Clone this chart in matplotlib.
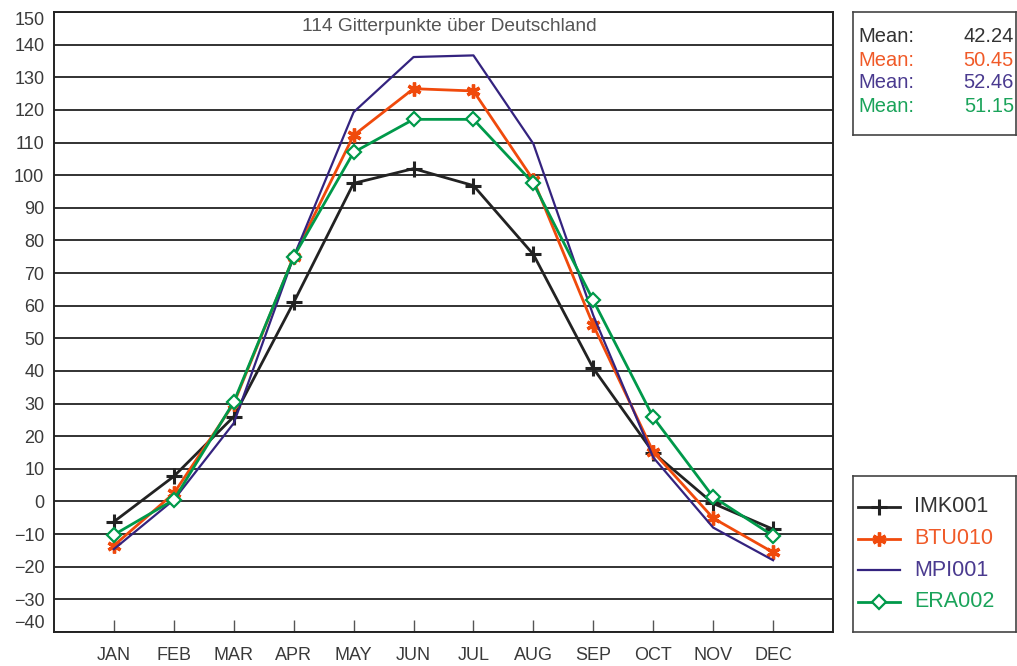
import numpy as np
import matplotlib
matplotlib.use('Agg')
import matplotlib.pyplot as plt

plt.rcParams['font.family'] = ['Liberation Sans', 'DejaVu Sans']

months = ['JAN', 'FEB', 'MAR', 'APR', 'MAY', 'JUN',
          'JUL', 'AUG', 'SEP', 'OCT', 'NOV', 'DEC']

imk001 = [-6.2, 7.7, 26, 61, 97.5, 102, 96.8, 75.7, 40.8, 15, -0.6, -8.5]
btu010 = [-13.5, 2.5, 30, 75, 112.2, 126.5, 125.8, 98.5, 54, 15.2, -5.1, -15.6]
mpi001 = [-14.6, 0.5, 24, 75, 119.3, 136.2, 136.7, 109.6, 57, 13.5, -8, -18]
era002 = [-10.2, 0.5, 30.5, 75, 107, 117.1, 117.1, 97.5, 61.6, 25.8, 1.4, -10.5]

names = ['IMK001', 'BTU010', 'MPI001', 'ERA002']
means = ['42.24', '50.45', '52.46', '51.15']
colors = ['#222222', '#f04a0c', '#34237f', '#00994a']
text_colors = ['#333333', '#f05a28', '#4a3a8f', '#1aa35a']

W, H = 1017, 666
fig = plt.figure(figsize=(W / 100, H / 100), dpi=100)

ax = fig.add_axes([54 / W, (H - 632) / H, (833 - 54) / W, (632 - 12) / H])
x = np.arange(1, 13)

ax.plot(x, imk001, color=colors[0], lw=2, marker='+', ms=11, mew=2.2)
ax.plot(x, btu010, color=colors[1], lw=2, marker=(6, 2, 0), ms=10, mew=2.4)
ax.plot(x, mpi001, color=colors[2], lw=1.6)
ax.plot(x, era002, color=colors[3], lw=2, marker='D', ms=7, mew=1.6,
        mfc='white')

ax.set_xlim(0, 13)
ax.set_ylim(-40, 150)
ax.set_xticks(x, months)
yt = np.arange(-40, 151, 10)
ax.set_yticks(yt, [str(v).replace('-', '\u2212') for v in yt])
ax.yaxis.grid(True, color='#222222', lw=1.3)
ax.set_axisbelow(True)
ax.tick_params(axis='x', direction='in', length=9, width=1, color='#555555',
               labelsize=13, labelcolor='#3a3a3a', pad=11)
ax.tick_params(axis='y', length=0, labelsize=13, labelcolor='#3a3a3a', pad=7)
for lab in ax.get_yticklabels():
    if lab.get_text() == '150':
        lab.set_va('top')
    elif lab.get_text() == '\u221240':
        lab.set_va('bottom')
for s in ax.spines.values():
    s.set_linewidth(1.4)
    s.set_color('#222222')

ax.text(0.507, 0.99, '114 Gitterpunkte über Deutschland', transform=ax.transAxes,
        ha='center', va='top', fontsize=13.8, color='#555555')

# mean box
mx = fig.add_axes([853 / W, (H - 135) / H, (1016 - 853) / W, (135 - 12) / H])
mx.set_xlim(853, 1016)
mx.set_ylim(135, 12)
mx.set_xticks([])
mx.set_yticks([])
for s in mx.spines.values():
    s.set_linewidth(1.2)
    s.set_color('#444444')
for i, m in enumerate(means):
    yy = 37 + i * 23
    mx.text(858, yy, 'Mean:', color=text_colors[i], fontsize=14.5, va='center')
    mx.text(1014, yy, m, color=text_colors[i], fontsize=14.5, va='center', ha='right')

# legend box
lx = fig.add_axes([853 / W, (H - 632) / H, (1016 - 853) / W, (632 - 476) / H])
lx.set_xlim(853, 1016)
lx.set_ylim(632, 476)
lx.set_xticks([])
lx.set_yticks([])
for s in lx.spines.values():
    s.set_linewidth(1.2)
    s.set_color('#444444')
mk = [dict(marker='+', ms=11, mew=2.2), dict(marker=(6, 2, 0), ms=10, mew=2.4),
      dict(), dict(marker='D', ms=7, mew=1.6, mfc='white')]
lws = [2, 2, 1.6, 2]
for i, nm in enumerate(names):
    yy = 507 + i * 31.5
    lx.plot([858, 900], [yy, yy], color=colors[i], lw=lws[i])
    if mk[i]:
        lx.plot([879], [yy], color=colors[i], **mk[i])
    lx.text(914, yy, nm, color=text_colors[i], fontsize=15.5, va='center')

fig.savefig('out.png', dpi=100)
